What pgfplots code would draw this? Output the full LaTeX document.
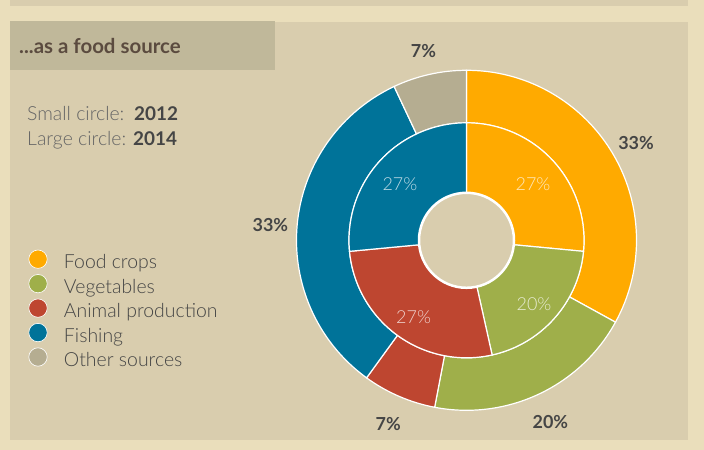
\documentclass[border=0pt]{standalone}
\usepackage{pgfplots}
\pgfplotsset{compat=1.18}
\usepackage{pgfplotstable}
\usepackage{fontspec}
\setmainfont{Lato}
\newfontfamily\lightfont{Lato Light}
\definecolor{cFood}{HTML}{FFAA00}
\definecolor{cVeg}{HTML}{9FAF4A}
\definecolor{cAnim}{HTML}{BE4630}
\definecolor{cFish}{HTML}{007399}
\definecolor{cOther}{HTML}{B5AD91}
\definecolor{frame}{HTML}{EADEBB}
\definecolor{panel}{HTML}{D9CDAE}
\definecolor{titlebox}{HTML}{C0B89A}
\definecolor{titletext}{HTML}{5B4B3F}
\definecolor{darktext}{HTML}{454545}
\definecolor{greytext}{HTML}{666666}

\pgfplotstableread[col sep=comma]{
name,inner,outer,col
Food crops,26.5,33,cFood
Vegetables,20,20,cVeg
Animal production,27,7,cAnim
Fishing,26.5,33,cFish
Other sources,0,7,cOther
}\sources
\pgfplotstablecreatecol[expr accum={\thisrow{inner}+\pgfmathaccuma}{0}]{icum}\sources
\pgfplotstablecreatecol[expr accum={\thisrow{outer}+\pgfmathaccuma}{0}]{ocum}\sources

\def\cx{466.5}
\def\cy{209.7}
\tikzset{
  outerlab/.style={font=\bfseries\fontsize{18}{20}\selectfont, text=darktext, inner sep=0pt, yshift=-3bp},
  innerlab/.style={font=\lightfont\fontsize{18}{20}\selectfont, text=white, text opacity=0.75, inner sep=0pt, yshift=-4.5bp},
}
\begin{document}
\begin{tikzpicture}
\begin{axis}[x=1bp, y=1bp, xmin=0, xmax=704, ymin=0, ymax=450,
  hide axis, scale only axis, clip=false,
  legend style={at={(axis cs:28.3,200.5)}, anchor=north west, draw=none, fill=none,
    inner sep=0pt, row sep=3.85bp, nodes={inner sep=0pt},
    font=\lightfont\fontsize{19.5}{22}\selectfont, text=darktext, cells={anchor=west},
    /tikz/every odd column/.append style={column sep=16.5bp}},
]
% background
\fill[frame] (axis cs:0,0) rectangle (axis cs:704,450);
\fill[panel] (axis cs:10,10) rectangle (axis cs:688,428);
\fill[panel] (axis cs:10,444) rectangle (axis cs:688,450);
\fill[titlebox] (axis cs:10,380) rectangle (axis cs:275,429);
\node[anchor=base west, inner sep=0pt, font=\bfseries\fontsize{20.5}{22}\selectfont, text=titletext] at (axis cs:19,396) {...as a food source};
\node[anchor=base west, inner sep=0pt, font=\lightfont\fontsize{19.5}{22}\selectfont, text=greytext] at (axis cs:27,329.3) {Small circle:};
\node[anchor=base west, inner sep=0pt, font=\bfseries\fontsize{19}{22}\selectfont, text=darktext] at (axis cs:134,329.3) {2012};
\node[anchor=base west, inner sep=0pt, font=\lightfont\fontsize{19.5}{22}\selectfont, text=greytext] at (axis cs:27,304) {Large circle:};
\node[anchor=base west, inner sep=0pt, font=\bfseries\fontsize{19}{22}\selectfont, text=darktext] at (axis cs:133,304) {2014};

% outer ring (2014)
\pgfplotsinvokeforeach{0,...,4}{
  \pgfplotstablegetelem{#1}{col}\of\sources \let\wcol\pgfplotsretval
  \pgfplotstablegetelem{#1}{outer}\of\sources \let\wval\pgfplotsretval
  \pgfplotstablegetelem{#1}{ocum}\of\sources \let\wcum\pgfplotsretval
  \pgfmathsetmacro\wa{90-3.6*(\wcum-\wval)}
  \pgfmathsetmacro\wb{90-3.6*\wcum}
  \pgfmathsetmacro\wm{(\wa+\wb)/2}
  \pgfmathtruncatemacro\wlab{round(\wval)}
  \edef\doit{\noexpand\filldraw[fill=\wcol, draw=white, line width=1.2bp]
     ([shift={(\wa:170bp)}]axis cs:\cx,\cy) arc[start angle=\wa, end angle=\wb, radius=170bp]
     -- ([shift={(\wb:117.5bp)}]axis cs:\cx,\cy) arc[start angle=\wb, end angle=\wa, radius=117.5bp] -- cycle;
     \noexpand\node[outerlab] at ([shift={(\wm:197bp)}]axis cs:\cx,\cy) {\wlab\noexpand\%};}
  \doit
}
% inner ring (2012)
\pgfplotsinvokeforeach{0,...,3}{
  \pgfplotstablegetelem{#1}{col}\of\sources \let\wcol\pgfplotsretval
  \pgfplotstablegetelem{#1}{inner}\of\sources \let\wval\pgfplotsretval
  \pgfplotstablegetelem{#1}{icum}\of\sources \let\wcum\pgfplotsretval
  \pgfmathsetmacro\wa{90-3.6*(\wcum-\wval)}
  \pgfmathsetmacro\wb{90-3.6*\wcum}
  \pgfmathsetmacro\wm{(\wa+\wb)/2}
  \pgfmathtruncatemacro\wlab{round(\wval)}
  \edef\doit{\noexpand\filldraw[fill=\wcol, draw=white, line width=1.2bp]
     ([shift={(\wa:117.5bp)}]axis cs:\cx,\cy) arc[start angle=\wa, end angle=\wb, radius=117.5bp]
     -- ([shift={(\wb:47.5bp)}]axis cs:\cx,\cy) arc[start angle=\wb, end angle=\wa, radius=47.5bp] -- cycle;
     \noexpand\node[innerlab] at ([shift={(\wm:90bp)}]axis cs:\cx,\cy) {\wlab\noexpand\%};}
  \doit
}
\draw[white, line width=2.5bp] (axis cs:\cx,\cy) circle[radius=47.5bp];

\addlegendimage{legend image code/.code={\filldraw[fill=cFood, draw=white, line width=0.6bp] (9.2bp,0.33em) circle[radius=9.2bp];}}
\addlegendentry{Food crops}
\addlegendimage{legend image code/.code={\filldraw[fill=cVeg, draw=white, line width=0.6bp] (9.2bp,0.33em) circle[radius=9.2bp];}}
\addlegendentry{Vegetables}
\addlegendimage{legend image code/.code={\filldraw[fill=cAnim, draw=white, line width=0.6bp] (9.2bp,0.33em) circle[radius=9.2bp];}}
\addlegendentry{Animal production}
\addlegendimage{legend image code/.code={\filldraw[fill=cFish, draw=white, line width=0.6bp] (9.2bp,0.33em) circle[radius=9.2bp];}}
\addlegendentry{Fishing}
\addlegendimage{legend image code/.code={\filldraw[fill=cOther, draw=white, line width=0.6bp] (9.2bp,0.33em) circle[radius=9.2bp];}}
\addlegendentry{Other sources}
\end{axis}
\end{tikzpicture}
\end{document}
